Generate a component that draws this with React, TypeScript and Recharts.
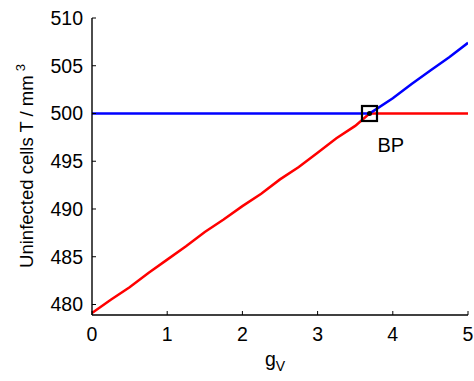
import { ComposedChart, Line, Scatter, XAxis, YAxis } from 'recharts'

// values
const redGv = [0, 0.25, 0.5, 0.75, 1, 1.25, 1.5, 1.75, 2, 2.25, 2.5, 2.75, 3, 3.25, 3.5, 3.69, 4, 4.5, 5]
const redT = [479.1, 480.5, 481.8, 483.3, 484.7, 486.1, 487.6, 488.9, 490.3, 491.6, 493.1, 494.4, 495.9, 497.4, 498.7, 500, 500, 500, 500]
const blueGv = [0, 3.69, 3.75, 4, 4.25, 4.5, 4.75, 5]
const blueT = [500, 500, 500.3, 501.6, 503.1, 504.5, 505.9, 507.4]
const bpGv = [3.69]
const bpT = [500]
const xTicks = [0, 1, 2, 3, 4, 5]
const yTicks = [480, 485, 490, 495, 500, 505, 510]

const redData = redGv.map((g, i) => ({ g, T: redT[i] }))
const blueData = blueGv.map((g, i) => ({ g, T: blueT[i] }))
const bpData = bpGv.map((g, i) => ({ g, T: bpT[i] }))

const font = '"Liberation Sans", Arial, sans-serif'
const axisLine = { stroke: '#000', strokeWidth: 1.4 }

const BPMarker = (props: any) => {
    const { cx, cy } = props
    return (
        <g>
            <rect x={cx - 7.5} y={cy - 7.5} width={15} height={15} fill="none" stroke="#000" strokeWidth={2.2} />
            <circle cx={cx} cy={cy} r={2.5} fill="#000" />
            <text x={cx + 8} y={cy + 39} fontSize={20} fontFamily={font} fill="#000">BP</text>
        </g>
    )
}

export default function App() {
    return (
        <div style={{ position: 'absolute', left: 0, top: 0, background: '#fff' }}>
            <ComposedChart width={474} height={381} margin={{ top: 18, right: 6, bottom: 0, left: 0 }}>
                <XAxis xAxisId="b" dataKey="g" type="number" domain={[0, 5]} ticks={xTicks} orientation="bottom"
                    height={66} tickSize={-4} tickMargin={16} stroke="#000" axisLine={axisLine} allowDataOverflow
                    tick={{ fill: '#000', fontSize: 19.5, fontFamily: font }} />
                <XAxis xAxisId="t" dataKey="g" type="number" domain={[0, 5]} ticks={xTicks} orientation="top"
                    height={0} tickSize={-4} stroke="#000" axisLine={axisLine} tickFormatter={() => ''} />
                <YAxis yAxisId="l" dataKey="T" type="number" domain={[478.9, 510]} ticks={yTicks} orientation="left"
                    width={92} tickSize={-4} tickMargin={13} stroke="#000" axisLine={axisLine} allowDataOverflow
                    tick={{ fill: '#000', fontSize: 19.5, fontFamily: font }} />
                <YAxis yAxisId="r" dataKey="T" type="number" domain={[478.9, 510]} ticks={yTicks} orientation="right"
                    width={0} tickSize={-4} stroke="#000" axisLine={axisLine} tickFormatter={() => ''} />
                <Line xAxisId="b" yAxisId="l" data={redData} dataKey="T" stroke="#ff0000" strokeWidth={2.5}
                    dot={false} activeDot={false} isAnimationActive={false} type="linear" />
                <Line xAxisId="b" yAxisId="l" data={blueData} dataKey="T" stroke="#0000ff" strokeWidth={2.5}
                    dot={false} activeDot={false} isAnimationActive={false} type="linear" />
                <Scatter xAxisId="b" yAxisId="l" data={bpData} dataKey="T" shape={BPMarker} isAnimationActive={false} />
                <text x={275} y={366} textAnchor="middle" fontSize={19.5} fontFamily={font} fill="#000">
                    g<tspan fontSize={14} dy={5}>V</tspan>
                </text>
                <text x={0} y={0} transform="translate(33,166) rotate(-90)" textAnchor="middle" fontSize={18.5}
                    fontFamily={font} fill="#000">
                    Uninfected cells T / mm<tspan fontSize={13} dx={4} dy={-8}>3</tspan>
                </text>
            </ComposedChart>
        </div>
    )
}
